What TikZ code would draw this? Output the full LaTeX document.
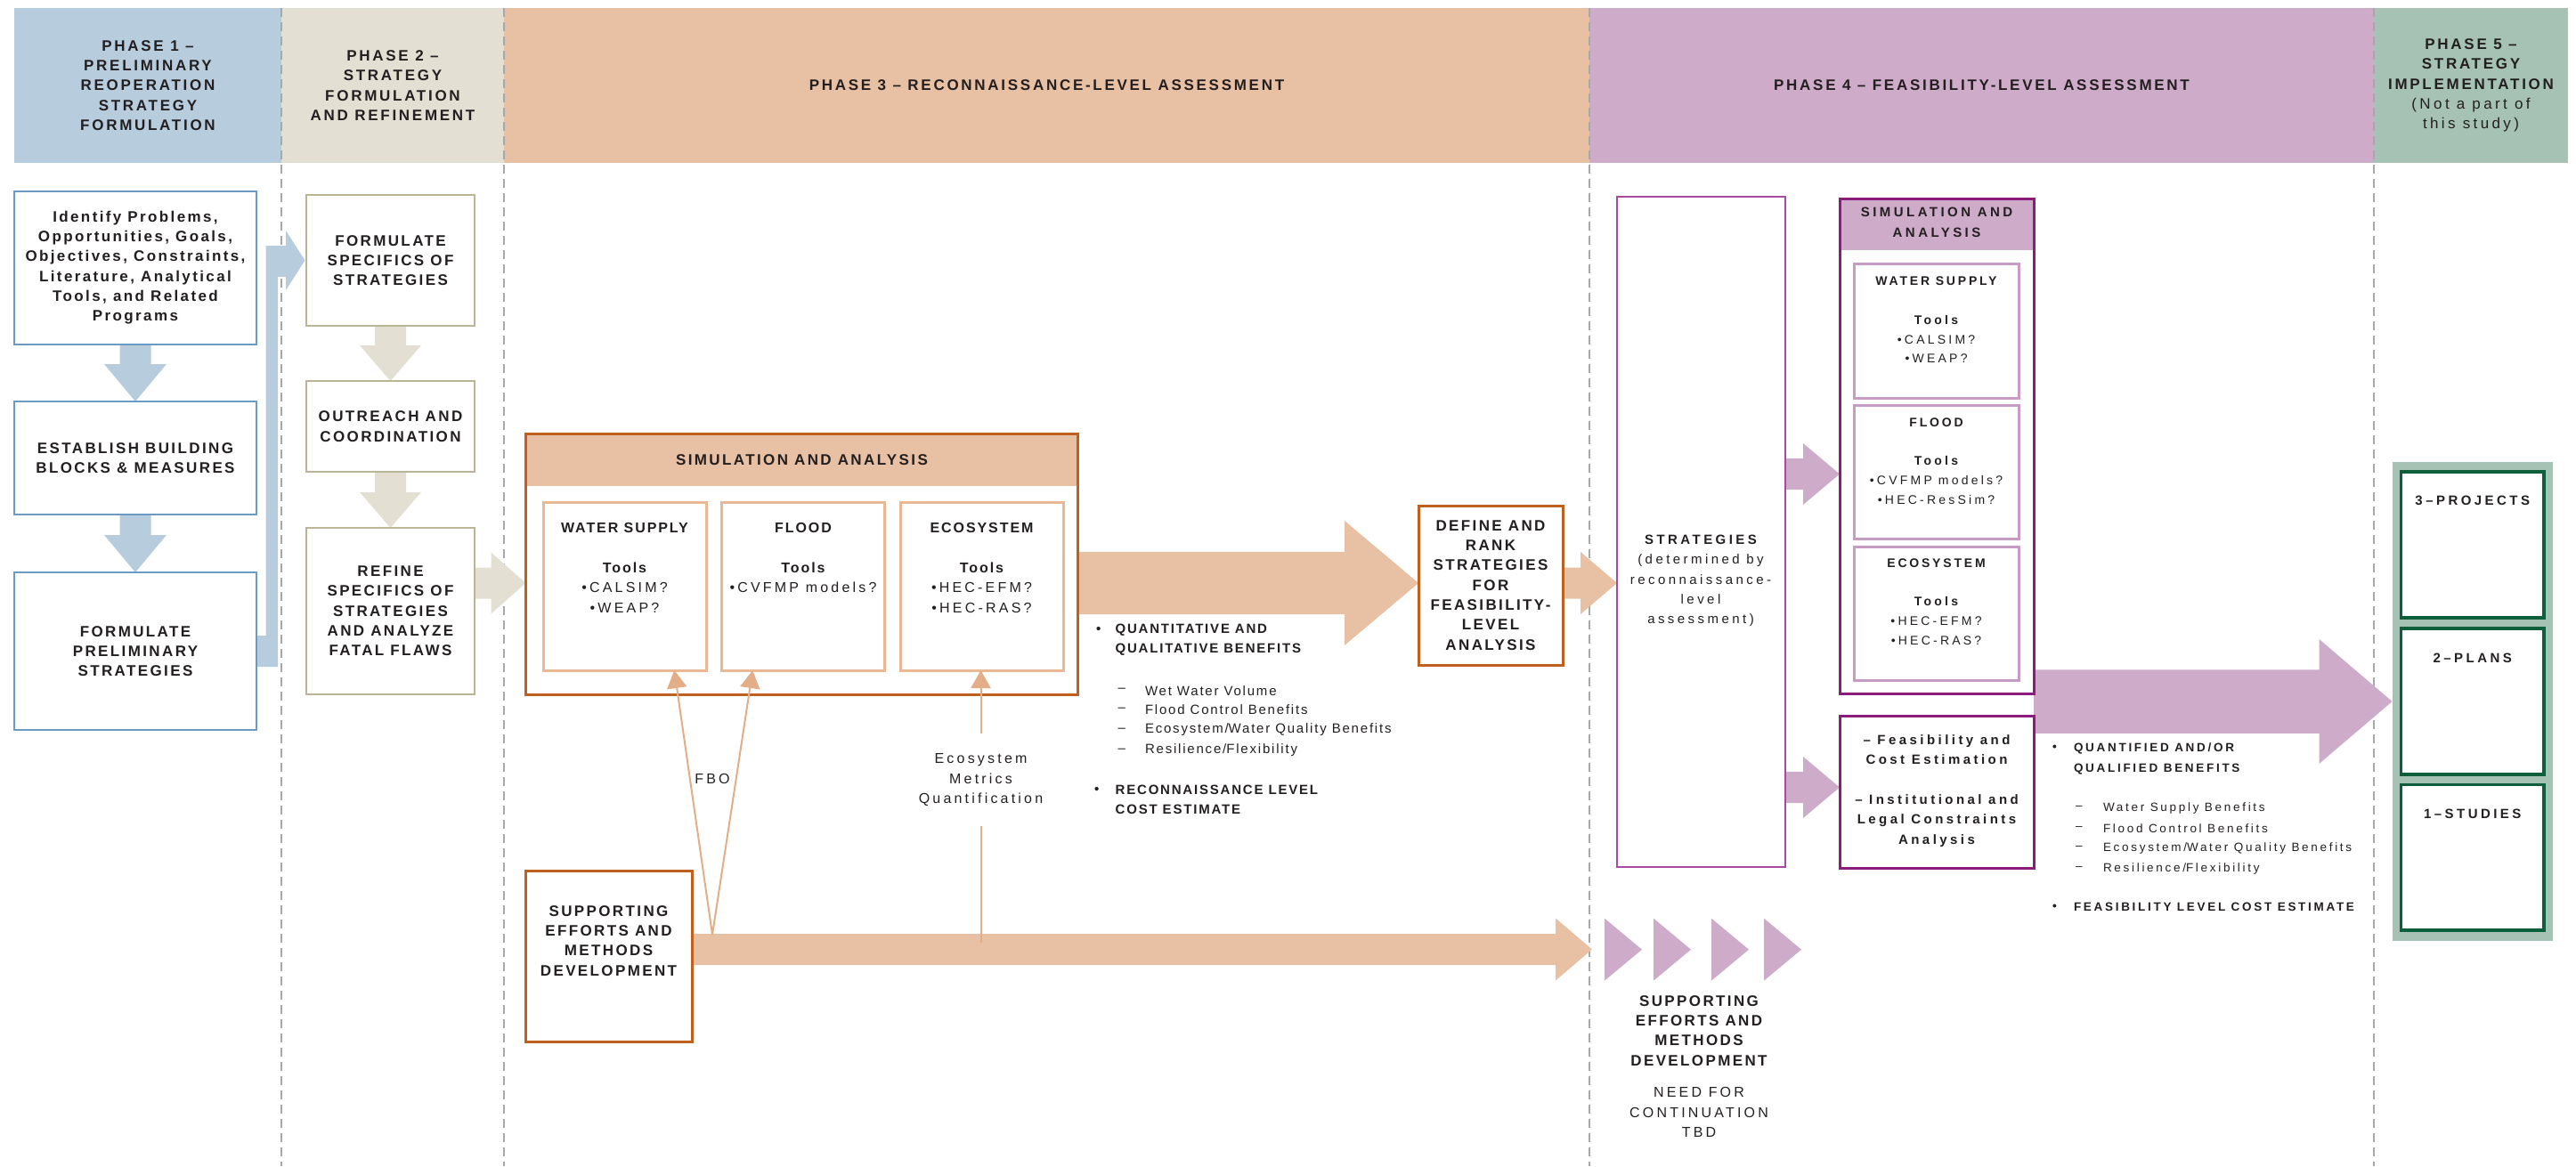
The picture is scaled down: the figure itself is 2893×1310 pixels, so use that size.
\documentclass[tikz,border=0pt]{standalone}
\usepackage{fontspec}
\setmainfont{Liberation Sans}
\newfontfamily\fA[LetterSpace=14]{Liberation Sans}
\newfontfamily\fH[LetterSpace=16]{Liberation Sans}
\newfontfamily\fB[LetterSpace=12]{Liberation Sans}
\newfontfamily\fL[LetterSpace=20]{Liberation Sans}
\newfontfamily\fFour[LetterSpace=23]{Liberation Sans}
\usetikzlibrary{calc,arrows.meta}
\pgfdeclarelayer{bg}
\pgfsetlayers{bg,main}
\definecolor{p1c}{HTML}{B7CCDD}
\definecolor{p1l}{HTML}{6B9AC4}
\definecolor{p2c}{HTML}{E3DFD3}
\definecolor{p2l}{HTML}{BAB594}
\definecolor{p3c}{HTML}{E8C0A3}
\definecolor{p3l}{HTML}{C0601E}
\definecolor{p3i}{HTML}{E9B996}
\definecolor{p3a}{HTML}{E3AD88}
\definecolor{p4c}{HTML}{CDABC9}
\definecolor{p4l}{HTML}{8C1C7C}
\definecolor{p4i}{HTML}{C79BC3}
\definecolor{p4s}{HTML}{A94AA2}
\definecolor{p5c}{HTML}{A5C2B5}
\definecolor{p5l}{HTML}{0D5E3D}
\definecolor{dsh}{HTML}{A8A8A8}
\definecolor{txt}{HTML}{231F20}
% block arrows: style, from, to, shaft half, head half, head length
\newcommand\myArrR[6]{\fill[#1] let \p1=(#2), \p2=(#3) in (\x1,{\y1+#4}) -- ({\x2-#6},{\y1+#4}) -- ({\x2-#6},{\y1+#5}) -- (\x2,\y1) -- ({\x2-#6},{\y1-#5}) -- ({\x2-#6},{\y1-#4}) -- (\x1,{\y1-#4}) -- cycle;}
\newcommand\myArrD[6]{\fill[#1] let \p1=(#2), \p2=(#3) in ({\x1-#4},\y1) -- ({\x1-#4},{\y2+#6}) -- ({\x1-#5},{\y2+#6}) -- (\x1,\y2) -- ({\x1+#5},{\y2+#6}) -- ({\x1+#4},{\y2+#6}) -- ({\x1+#4},\y1) -- cycle;}
\tikzset{
  every node/.style={inner sep=0pt, outer sep=0pt, text=txt},
  tA/.style={align=center, font=\fA\bfseries\fontsize{17}{22.3}\selectfont},
  hdr/.style={align=center, font=\fH\bfseries\fontsize{17}{22.3}\selectfont, minimum height=174},
  bx1/.style={draw=p1l, line width=2pt, fill=white, minimum width=272, tA},
  bx2/.style={draw=p2l, line width=2pt, fill=white, minimum width=189, tA},
  bx3/.style={draw=p3l, line width=3pt, fill=white},
  in3/.style={draw=p3i, line width=3pt, fill=white, minimum width=183, minimum height=189},
  t3/.style={align=center, font=\fL\fontsize{16}{22.4}\selectfont},
  lbl3/.style={align=center, font=\fL\fontsize{16}{22.2}\selectfont},
  ben3/.style={anchor=west, align=left, font=\fB\fontsize{15}{22}\selectfont},
  ben4/.style={anchor=west, align=left, font=\fL\fontsize{13.5}{22.9}\selectfont},
  bx4/.style={draw=p4l, line width=3pt, fill=white, minimum width=218},
  in4/.style={draw=p4i, line width=3pt, fill=white, minimum width=185, minimum height=150},
  t4/.style={align=center, font=\fFour\fontsize{14}{21.7}\selectfont},
  t4b/.style={align=center, font=\fFour\fontsize{15}{22.4}\selectfont},
  bx5/.style={draw=p5l, line width=3.5pt, fill=white, minimum width=160.5},
  t5/.style={font=\fFour\bfseries\fontsize{15}{18}\selectfont},
  dashln/.style={draw=dsh, line width=2pt, dash pattern=on 10pt off 6pt},
  thinarr/.style={draw=p3a, line width=2pt, -{Triangle[length=20pt,width=22pt]}},
  thinln/.style={draw=p3a, line width=2pt},
}
\begin{document}
\begin{tikzpicture}[x=1pt,y=-1pt]
\useasboundingbox (0,0) rectangle (2893,1310);

% ---------------- Phase 1 ----------------
\node[bx1, minimum height=172.5] (b11) at (152,300.75) {Identify Problems,\\Opportunities, Goals,\\Objectives, Constraints,\\Literature, Analytical\\Tools, and Related\\Programs};
\node[bx1, minimum height=127] (b12) at (152,514.5) {ESTABLISH BUILDING\\BLOCKS \& MEASURES};
\node[bx1, minimum height=177] (b13) at (152,731.5) {FORMULATE\\PRELIMINARY\\STRATEGIES};

% ---------------- Phase 2 ----------------
\node[bx2, minimum height=147] (b21) at (438.5,292.5) {FORMULATE\\SPECIFICS OF\\STRATEGIES};
\node[bx2, minimum height=102] (b22) at (438.5,479) {OUTREACH AND\\COORDINATION};
\node[bx2, minimum height=187] (b23) at (438.5,686.5) {REFINE\\SPECIFICS OF\\STRATEGIES\\AND ANALYZE\\FATAL FLAWS};

% ---------------- Phase 3 ----------------
\node[bx3, minimum width=620, minimum height=293,
  path picture={\fill[p3c] (path picture bounding box.north west) rectangle ([yshift=-59pt]path picture bounding box.north east);}] (p3sim) at (900.5,633.5) {};
\node[tA] (p3simt) at (900.5,516.5) {SIMULATION AND ANALYSIS};
\node[in3] (ws3) at (701.5,658.5) {};
\node[in3] (fl3) at (902,658.5) {};
\node[in3] (ec3) at (1102.5,658.5) {};
\node[t3] at (701.5,638) {{\fB\bfseries WATER SUPPLY}\\\mbox{}\\{\fB\bfseries Tools}\\•CALSIM?\\•WEAP?};
\node[t3] at (902,626.75) {{\fB\bfseries FLOOD}\\\mbox{}\\{\fB\bfseries Tools}\\•CVFMP models?};
\node[t3] at (1102.5,638) {{\fB\bfseries ECOSYSTEM}\\\mbox{}\\{\fB\bfseries Tools}\\•HEC-EFM?\\•HEC-RAS?};

\node[bx3, minimum width=162, minimum height=179, tA] (def) at (1674,657.5) {DEFINE AND\\RANK\\STRATEGIES\\FOR\\FEASIBILITY-\\LEVEL\\ANALYSIS};

\node[ben3] at (1231,708) {\bfseries •};
\node[ben3] at (1252.6,719) {\bfseries QUANTITATIVE AND\\\bfseries QUALITATIVE BENEFITS};
\foreach \yy/\tt in {775.7/Wet Water Volume, 797.5/Flood Control Benefits, 820/Ecosystem\slash Water Quality Benefits, 843/Resilience\slash Flexibility}{
  \node[ben3] at (1255.6,\yy) {–};
  \node[ben3] at (1286,\yy) {\tt};
}
\node[ben3] at (1229,887.5) {\bfseries •};
\node[ben3] at (1252.7,898.5) {\bfseries RECONNAISSANCE LEVEL\\\bfseries COST ESTIMATE};

\node[bx3, minimum width=187, minimum height=192] (sup3) at (683.5,1074.6) {};
\node[tA] at (683.5,1056.75) {SUPPORTING\\EFFORTS AND\\METHODS\\DEVELOPMENT};
\coordinate (sup3tip) at (1788,1066.5);
\coordinate (fbo0) at (800,1050);
\coordinate (eco0) at (1101.5,1059);
\node[lbl3] at (800,875) {FBO};
\node[lbl3, minimum height=104] (ecolbl) at (1101.5,876) {Ecosystem\\Metrics\\Quantification};
\draw[thinarr] (fbo0) -- ($(ws3.south)!0.61!(ws3.south east)$);
\draw[thinarr] (fbo0) -- ($(fl3.south)!0.62!(fl3.south west)$);
\draw[thinln] (eco0) -- (ecolbl.south);
\draw[thinarr] (ecolbl.north) -- (ecolbl.north |- ec3.south);

% ---------------- Phase 4 ----------------
\node[draw=p4s, line width=2pt, fill=white, minimum width=189, minimum height=753] (strat) at (1910.5,597.5) {};
\node[t4b] at (1910,652.5) {\bfseries STRATEGIES\\(determined by\\reconnaissance-\\level\\assessment)};

\node[bx4, minimum height=556,
  path picture={\fill[p4c] (path picture bounding box.north west) rectangle ([yshift=-58pt]path picture bounding box.north east);}] (p4sim) at (2175,501) {};
\node[t4b] (p4simt) at (2175,250) {\bfseries SIMULATION AND\\\bfseries ANALYSIS};
\node[in4, minimum height=151] (ws4) at (2174.5,371.5) {};
\node[in4] (fl4) at (2174.5,530) {};
\node[in4] (ec4) at (2174.5,689) {};
\node[t4] at (2174.5,359.5) {{\fL\bfseries WATER SUPPLY}\\\mbox{}\\\bfseries Tools\\•CALSIM?\\•WEAP?};
\node[t4] at (2174.5,518) {{\fL\bfseries FLOOD}\\\mbox{}\\\bfseries Tools\\•CVFMP models?\\•HEC-ResSim?};
\node[t4] at (2174.5,676) {{\fL\bfseries ECOSYSTEM}\\\mbox{}\\\bfseries Tools\\•HEC-EFM?\\•HEC-RAS?};

\node[bx4, minimum height=171] (feas) at (2175,889.5) {};
\node[t4b] at (2175,888.5) {\bfseries – Feasibility and\\\bfseries Cost Estimation\\\mbox{}\\\bfseries – Institutional and\\\bfseries Legal Constraints\\\bfseries Analysis};

\node[ben4] at (2305,840.6) {\bfseries •};
\node[ben4] at (2329,852) {\bfseries QUANTIFIED AND/OR\\\bfseries QUALIFIED BENEFITS};
\foreach \yy/\tt in {907.6/Water Supply Benefits, 930.5/Flood Control Benefits, 952.7/Ecosystem\slash Water Quality Benefits, 975.7/Resilience\slash Flexibility}{
  \node[ben4] at (2331,\yy) {–};
  \node[ben4] at (2362,\yy) {\tt};
}
\node[ben4] at (2305,1019) {\bfseries •};
\node[ben4] at (2329,1019) {\bfseries FEASIBILITY LEVEL COST ESTIMATE};

\node[tA] at (1908,1157.8) {SUPPORTING\\EFFORTS AND\\METHODS\\DEVELOPMENT};
\node[lbl3] at (1908,1249.5) {NEED FOR\\CONTINUATION\\TBD};

% ---------------- Phase 5 ----------------
\node[fill=p5c, minimum width=180, minimum height=538] (g5) at (2776.5,788) {};
\node[bx5, minimum height=164] (s3p) at (2776.75,612) {};
\node[bx5, minimum height=164] (s2p) at (2776.75,788) {};
\node[bx5, minimum height=163.5] (s1p) at (2776.75,963) {};
\node[t5] at (2776.75,562) {3–PROJECTS};
\node[t5] at (2776.75,739) {2–PLANS};
\node[t5] at (2776.75,914) {1–STUDIES};

% ---------------- background: headers, dashed lines, block arrows ----------------
\begin{pgfonlayer}{bg}
\node[hdr, fill=p1c, minimum width=300] (h1) at (166,96) {PHASE 1 –\\PRELIMINARY\\REOPERATION\\STRATEGY\\FORMULATION};
\node[hdr, fill=p2c, minimum width=250] (h2) at (441,96) {PHASE 2 –\\STRATEGY\\FORMULATION\\AND REFINEMENT};
\node[hdr, fill=p3c, minimum width=1219] (h3) at (1175.5,96) {PHASE 3 – RECONNAISSANCE-LEVEL ASSESSMENT};
\node[hdr, fill=p4c, minimum width=881] (h4) at (2225.5,96) {PHASE 4 – FEASIBILITY-LEVEL ASSESSMENT};
\node[hdr, fill=p5c, minimum width=218] (h5) at (2775,96) {PHASE 5 –\\STRATEGY\\IMPLEMENTATION\\\fL\mdseries (Not a part of\\\fL\mdseries this study)};

\foreach \xx in {316,566,1785,2666}{
  \draw[dashln] (\xx,9) -- (\xx,1310);
}

% phase 1 arrows
\myArrD{p1c}{b11.south}{b12.north}{17.5pt}{35pt}{42pt}
\myArrD{p1c}{b12.south}{b13.north}{17.5pt}{35pt}{42pt}
\fill[p1c] let \p1=(b13.east), \p2=(b21.west) in
  (\x1,{\y1+17.5pt}) -- ({\x1+10.5pt},{\y1+17.5pt}) -- ({\x1+10.5pt},{\y2+16.5pt})
  -- ({\x2-23pt},{\y2+16.5pt}) -- ({\x2-23pt},{\y2+33.5pt}) -- ({\x2-1.5pt},\y2)
  -- ({\x2-23pt},{\y2-33.5pt}) -- ({\x2-23pt},{\y2-18.5pt}) -- ({\x1+24pt},{\y2-18.5pt})
  -- ({\x1+24pt},{\y1-17.5pt}) -- (\x1,{\y1-17.5pt}) -- cycle;
% phase 2 arrows
\coordinate (axis) at (0,655);
\myArrD{p2c}{b21.south}{b22.north}{17.5pt}{34.5pt}{40pt}
\myArrD{p2c}{b22.south}{b23.north}{17.5pt}{34.5pt}{40pt}
\myArrR{p2c}{b23.east |- axis}{p3sim.west}{17.5pt}{34.5pt}{39pt}
% phase 3 arrows
\myArrR{p3c}{p3sim.east |- axis}{def.west}{35pt}{70pt}{83pt}
\myArrR{p3c}{def.east |- axis}{strat.west}{17.5pt}{35pt}{41pt}
\myArrR{p3c}{sup3.east |- sup3tip}{sup3tip}{17.5pt}{35pt}{41pt}
% phase 4 arrows
\coordinate (ax4a) at (0,532.5);
\coordinate (ax4b) at (0,884.5);
\myArrR{p4c}{strat.east |- ax4a}{p4sim.west}{17.5pt}{34.5pt}{41pt}
\myArrR{p4c}{strat.east |- ax4b}{feas.west}{17.5pt}{34.5pt}{41pt}
\myArrR{p4c}{p4sim.east |- g5.west}{g5.west}{35.75pt}{70pt}{82pt}
% chevrons
\foreach \cx in {1802,1857,1922,1981}{
  \fill[p4c] (\cx,1031.7) -- (\cx+42,1066.7) -- (\cx,1101.7) -- cycle;
}
\end{pgfonlayer}
\end{tikzpicture}
\end{document}
